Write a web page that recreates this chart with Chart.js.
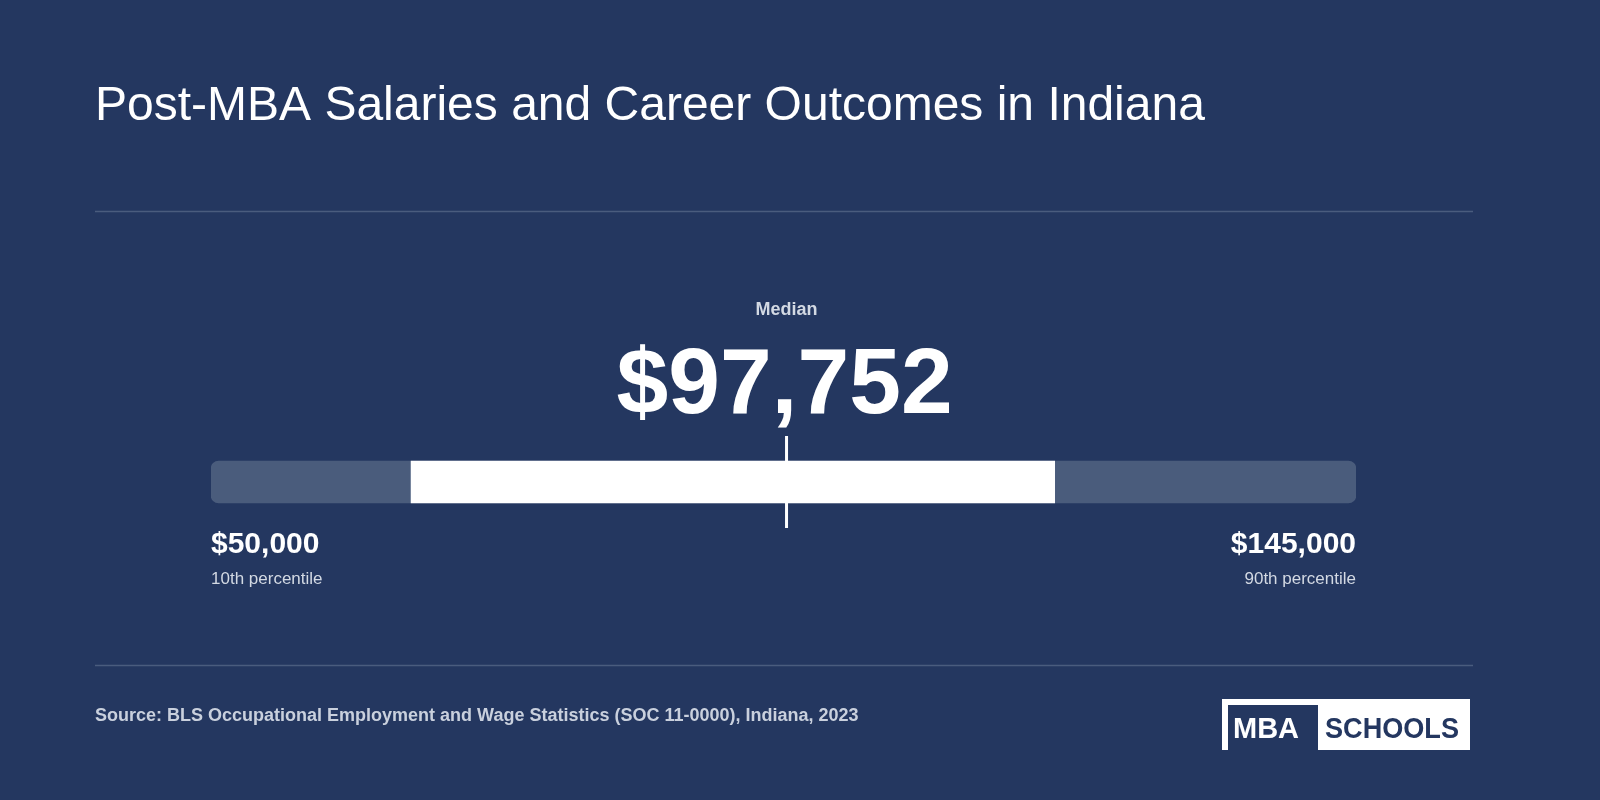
<!DOCTYPE html>
<html><head><meta charset="utf-8">
<script src="https://cdn.jsdelivr.net/npm/chart.js@4"></script>
<style>html,body{margin:0;padding:0;background:#243760;}#wrap{width:1600px;height:800px;position:relative}</style>
</head><body><div id="wrap"><canvas id="c" width="1600" height="800"></canvas></div>
<script>
const title = "Post-MBA Salaries and Career Outcomes in Indiana";
const categories = ["Indiana"];
const p10 = [50000];
const p25 = [66600];
const median = [97752];
const p75 = [120000];
const p90 = [145000];
const endLabels = ["10th percentile", "90th percentile"];
const source = "Source: BLS Occupational Employment and Wage Statistics (SOC 11-0000), Indiana, 2023";
const fmt = v => "$" + v.toLocaleString("en-US");
const F = '"Liberation Sans", Arial, Helvetica, sans-serif';

const overlay = {
  id: "overlay",
  afterDatasetsDraw(chart) {
    const ctx = chart.ctx, x = chart.scales.x, y = chart.scales.y;
    const mx = x.getPixelForValue(median[0]);
    const cy = y.getPixelForValue(0);
    ctx.save();
    ctx.fillStyle = "#ffffff";
    ctx.fillRect(mx - 1.5, cy - 46, 3, 92);
    ctx.textBaseline = "alphabetic";
    ctx.fillStyle = "#ffffff"; ctx.textAlign = "left";
    ctx.font = "48px " + F; ctx.fillText(title, 95, 120, 1126);
    ctx.strokeStyle = "#4a5c7e"; ctx.lineWidth = 1.5;
    [211.5, 665.5].forEach(yy => { ctx.beginPath(); ctx.moveTo(95, yy); ctx.lineTo(1473, yy); ctx.stroke(); });
    ctx.textAlign = "center";
    ctx.fillStyle = "#d3d9e3"; ctx.font = "bold 18px " + F; ctx.fillText("Median", mx, 315);
    ctx.fillStyle = "#ffffff"; ctx.font = "bold 93px " + F; ctx.fillText(fmt(median[0]), mx - 2, 413);
    const l = x.getPixelForValue(p10[0]), r = x.getPixelForValue(p90[0]);
    ctx.textAlign = "left"; ctx.font = "bold 30px " + F; ctx.fillText(fmt(p10[0]), l, 553);
    ctx.textAlign = "right"; ctx.fillText(fmt(p90[0]), r, 553);
    ctx.fillStyle = "#d3d9e3"; ctx.font = "17px " + F;
    ctx.textAlign = "left"; ctx.fillText(endLabels[0], l, 584);
    ctx.textAlign = "right"; ctx.fillText(endLabels[1], r, 584);
    ctx.textAlign = "left"; ctx.fillStyle = "#c9d0dd"; ctx.font = "bold 18px " + F;
    ctx.fillText(source, 95, 721);
    // logo
    ctx.fillStyle = "#ffffff"; ctx.fillRect(1222, 699, 248, 51);
    ctx.fillStyle = "#243760"; ctx.fillRect(1228, 705, 90, 45);
    ctx.font = "bold 29px " + F; ctx.textAlign = "left";
    ctx.fillStyle = "#ffffff"; ctx.fillText("MBA", 1233, 738, 78);
    ctx.fillStyle = "#243760"; ctx.fillText("SCHOOLS", 1325, 738, 134);
    ctx.restore();
  }
};

new Chart(document.getElementById("c"), {
  type: "bar",
  data: {
    labels: categories,
    datasets: [
      { data: p10.map((v, i) => [v, p90[i]]), backgroundColor: "#4a5c7c", borderRadius: 8, borderSkipped: false, barThickness: 42, grouped: false, order: 2 },
      { data: p25.map((v, i) => [v, p75[i]]), backgroundColor: "#ffffff", borderRadius: 0, barThickness: 42, grouped: false, order: 1 }
    ]
  },
  options: {
    indexAxis: "y", responsive: false, animation: false,
    layout: { padding: { left: 211, right: 244, top: 440, bottom: 276 } },
    scales: { x: { display: false, min: p10[0], max: p90[0] }, y: { display: false } },
    plugins: { legend: { display: false }, tooltip: { enabled: false } }
  },
  plugins: [overlay]
});
</script></body></html>
